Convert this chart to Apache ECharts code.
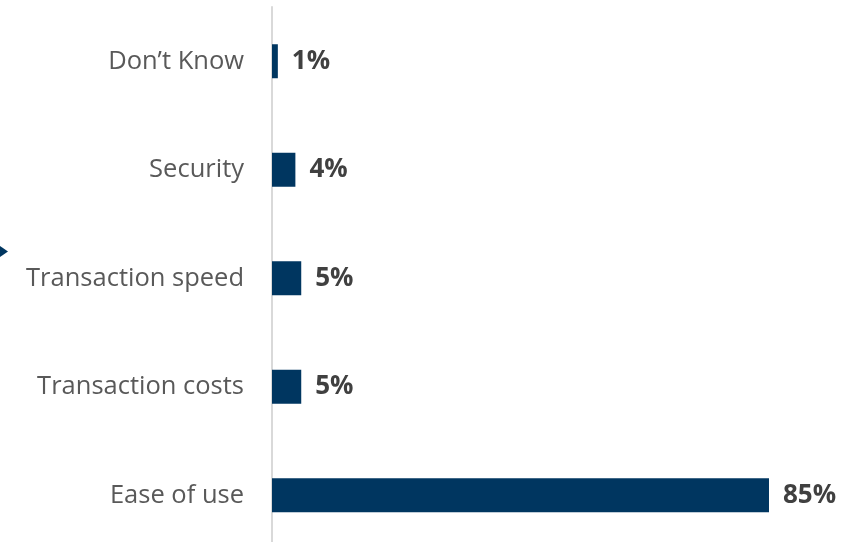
<!DOCTYPE html>
<html>
<head>
<meta charset="utf-8">
<script src="https://cdn.jsdelivr.net/npm/echarts@6/dist/echarts.min.js"></script>
<style>
  html, body { margin: 0; padding: 0; background: #ffffff; }
  #chart { width: 861px; height: 542px; }
</style>
</head>
<body>
<div id="chart"></div>
<script>
// Survey answers, listed top to bottom
const categories = ["Don\u2019t Know", "Security", "Transaction speed", "Transaction costs", "Ease of use"];
const shares = [1, 4, 5, 5, 85];

const chart = echarts.init(document.getElementById('chart'));

chart.setOption({
  animation: false,
  grid: {
    left: 272, top: 7, width: 584.7, height: 542.5,
    containLabel: false,
    outerBoundsMode: 'none'
  },
  xAxis: {
    type: 'value',
    min: 0,
    max: 100,
    show: false
  },
  yAxis: {
    type: 'category',
    data: categories,
    inverse: true,
    axisLine: { show: true, lineStyle: { color: '#d9d9d9', width: 2 } },
    axisTick: { show: false },
    axisLabel: {
      margin: 28,
      color: '#595959',
      fontFamily: 'Open Sans',
      fontSize: 25.5
    }
  },
  series: [{
    type: 'bar',
    data: shares,
    barWidth: 34,
    itemStyle: { color: '#003660' },
    label: {
      show: true,
      position: 'right',
      distance: 14,
      formatter: '{c}%',
      color: '#404040',
      fontFamily: 'Open Sans',
      fontWeight: 'bold',
      fontSize: 26
    }
  }],
  graphic: [{
    type: 'polygon',
    shape: { points: [[0, 246], [8, 251.5], [0, 257]] },
    style: { fill: '#003660' }
  }]
});
</script>
</body>
</html>
